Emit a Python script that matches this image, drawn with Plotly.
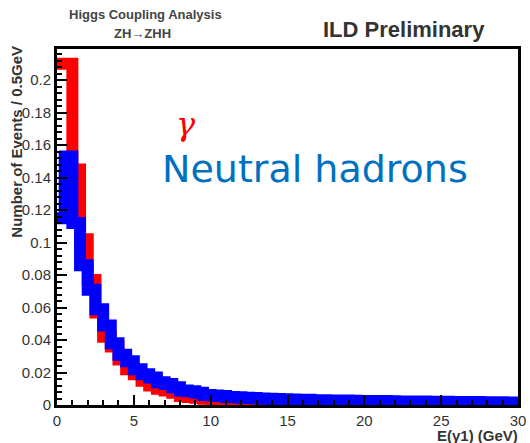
import plotly.graph_objects as go

# Histogram binning: 0.5 GeV bins from 0 to 30 GeV
bin_width = 0.5
n_bins = 60

# Normalised energy spectrum of the leading cluster, photons
gamma_vals = [
    0.210, 0.210, 0.145, 0.102, 0.077, 0.057, 0.042, 0.036, 0.028, 0.022,
    0.019, 0.015, 0.012, 0.010, 0.009, 0.0075, 0.0055, 0.005, 0.0045, 0.0038,
    0.0030, 0.0025, 0.0022, 0.0020, 0.0018, 0.0017, 0.0016, 0.0015, 0.0014, 0.0013,
    0.0012, 0.0012, 0.0011, 0.0011, 0.0010, 0.0010, 0.0010, 0.0009, 0.0009, 0.0009,
    0.0008, 0.0008, 0.0008, 0.0008, 0.0007, 0.0007, 0.0007, 0.0007, 0.0007, 0.0006,
    0.0006, 0.0006, 0.0006, 0.0006, 0.0006, 0.0005, 0.0005, 0.0005, 0.0005, 0.0005,
]

# Same spectrum for neutral hadrons
hadron_vals = [
    0.115, 0.153, 0.112, 0.086, 0.071, 0.059, 0.049, 0.038, 0.031, 0.027,
    0.022, 0.019, 0.017, 0.014, 0.013, 0.011, 0.009, 0.0085, 0.0075, 0.0062,
    0.0058, 0.0055, 0.0050, 0.0048, 0.0045, 0.0043, 0.0040, 0.0038, 0.0037, 0.0035,
    0.0034, 0.0033, 0.0032, 0.0030, 0.0029, 0.0028, 0.0027, 0.0027, 0.0026, 0.0025,
    0.0025, 0.0024, 0.0024, 0.0023, 0.0022, 0.0022, 0.0021, 0.0021, 0.0020, 0.0020,
    0.0020, 0.0019, 0.0019, 0.0018, 0.0018, 0.0017, 0.0017, 0.0017, 0.0016, 0.0016,
]

bin_edges = [i * bin_width for i in range(n_bins + 1)]


def step_xy(vals):
    # left edges plus the closing right edge, drawn as a histogram outline
    xs = bin_edges[:]
    ys = list(vals) + [vals[-1]]
    return xs, ys


W, H = 530, 443
L, R, T, B = 57, 4, 49, 38
plot_w = W - L - R
plot_h = H - T - B

fig = go.Figure()
gx, gy = step_xy(gamma_vals)
fig.add_trace(go.Scatter(x=gx, y=gy, mode="lines", line=dict(color="#ff0000", width=12, shape="hv"),
                         name="γ", showlegend=False))
hx, hy = step_xy(hadron_vals)
fig.add_trace(go.Scatter(x=hx, y=hy, mode="lines", line=dict(color="#0000ff", width=12, shape="hv"),
                         name="Neutral hadrons", showlegend=False))

tick_font = dict(family="Liberation Sans", size=15, color="#333333")

fig.update_xaxes(
    range=[0, 30], dtick=5, tick0=0, ticks="inside", ticklen=10, tickwidth=2, tickcolor="black",
    minor=dict(dtick=1, ticks="inside", ticklen=5, tickwidth=2, tickcolor="black"),
    showline=True, linewidth=3, linecolor="black", mirror=True, showgrid=False, zeroline=False,
    layer="above traces", tickfont=tick_font, ticklabeloverflow="allow",
)
fig.update_yaxes(
    range=[0, plot_h / 1625.0], dtick=0.02, tick0=0, ticks="inside", ticklen=10, tickwidth=2, tickcolor="black",
    minor=dict(dtick=0.004, ticks="inside", ticklen=5, tickwidth=2, tickcolor="black"),
    showline=True, linewidth=3, linecolor="black", mirror=True, showgrid=False, zeroline=False,
    layer="above traces", tickfont=tick_font, ticklabeloverflow="allow",
)


def px(xp):
    return (xp - L) / plot_w


def py(yp):
    return (H - B - yp) / plot_h


annotations = [
    dict(text="<b>Higgs Coupling Analysis</b>", x=px(147), y=py(14), xanchor="center", yanchor="middle",
         font=dict(family="Liberation Sans", size=13, color="#444444")),
    dict(text="<b>ZH→ZHH</b>", x=px(144), y=py(34), xanchor="center", yanchor="middle",
         font=dict(family="Liberation Sans", size=13, color="#444444")),
    dict(text="<b>ILD Preliminary</b>", x=px(410), y=py(29), xanchor="center", yanchor="middle",
         font=dict(family="Liberation Sans", size=22, color="#333333")),
    dict(text="<b>E(γ1) (GeV)</b>", x=px(528), y=py(435), xanchor="right", yanchor="middle",
         font=dict(family="Liberation Sans", size=15, color="#333333")),
    dict(text="<b>Number of Events / 0.5GeV</b>", x=px(16), y=py(44), xanchor="center", yanchor="top",
         textangle=-90, font=dict(family="Liberation Sans", size=15, color="#333333")),
    dict(text="<i>γ</i>", x=px(188), y=py(124), xanchor="center", yanchor="middle",
         font=dict(family="DejaVu Serif", size=32, color="#ff0000")),
    dict(text="Neutral hadrons", x=px(162), y=py(169), xanchor="left", yanchor="middle",
         font=dict(family="DejaVu Sans", size=38, color="#0070c0")),
]
for a in annotations:
    a.update(xref="paper", yref="paper", showarrow=False)

fig.update_layout(
    width=W, height=H, margin=dict(l=L, r=R, t=T, b=B),
    paper_bgcolor="white", plot_bgcolor="white",
    annotations=annotations, showlegend=False,
)

fig.write_html("out.html")
